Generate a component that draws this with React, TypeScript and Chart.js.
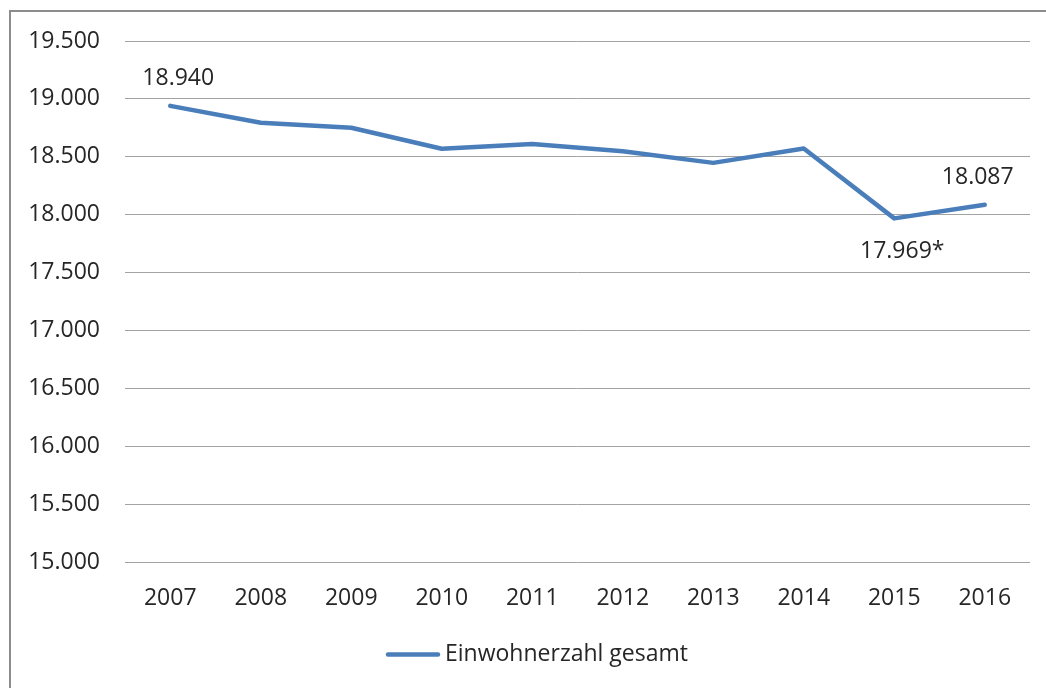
import React, { useEffect, useRef } from "react";
import { Chart, registerables } from "chart.js";

Chart.register(...registerables);

const years: string[] = ["2007", "2008", "2009", "2010", "2011", "2012", "2013", "2014", "2015", "2016"];
const einwohner: number[] = [18940, 18795, 18751, 18570, 18612, 18548, 18448, 18572, 17969, 18087];
const pointLabels: string[] = ["18.940", "", "", "", "", "", "", "", "17.969*", "18.087"];
const seriesName = "Einwohnerzahl gesamt";
const yMin = 15000;
const yMax = 19500;
const yStep = 500;

const FONT = "'Open Sans', 'Noto Sans', sans-serif";
const TEXT = "#262626";
const LINE = "#4a7ebb";

// label placement styling: above/below point, with small horizontal nudge
const labelStyle: { [k: number]: { below: boolean; dx: number } } = {
  0: { below: false, dx: 8 },
  8: { below: true, dx: 8 },
  9: { below: false, dx: -7 },
};

const dataLabelPlugin = {
  id: "pointLabels",
  afterDatasetsDraw(chart: any) {
    const meta = chart.getDatasetMeta(0);
    const ctx = chart.ctx;
    ctx.save();
    ctx.font = `23px ${FONT}`;
    ctx.fillStyle = TEXT;
    ctx.textAlign = "center";
    ctx.textBaseline = "middle";
    meta.data.forEach((pt: any, i: number) => {
      const txt = pointLabels[i];
      if (!txt) return;
      const st = labelStyle[i] || { below: false, dx: 0 };
      const y = st.below ? pt.y + 33 : pt.y - 27;
      ctx.fillText(txt, pt.x + st.dx, y);
    });
    ctx.restore();
  },
};

// simple Excel-like legend: short line then label
const legendPlugin = {
  id: "excelLegend",
  afterDraw(chart: any) {
    const ds = chart.data.datasets[0];
    const ctx = chart.ctx;
    const y = chart.chartArea.bottom + 92;
    const x0 = 375;
    const lineW = 54;
    ctx.save();
    ctx.strokeStyle = ds.borderColor;
    ctx.lineWidth = 4.5;
    ctx.lineCap = "round";
    ctx.beginPath();
    ctx.moveTo(x0 + 2, y);
    ctx.lineTo(x0 + lineW - 2, y);
    ctx.stroke();
    ctx.font = `23px ${FONT}`;
    ctx.fillStyle = TEXT;
    ctx.textAlign = "left";
    ctx.textBaseline = "middle";
    ctx.fillText(ds.label, x0 + lineW + 5, y);
    ctx.restore();
  },
};

export default function App() {
  const ref = useRef<HTMLCanvasElement | null>(null);
  useEffect(() => {
    if (!ref.current) return;
    const chart = new Chart(ref.current, {
      type: "line",
      data: {
        labels: years,
        datasets: [
          {
            label: seriesName,
            data: einwohner,
            borderColor: LINE,
            backgroundColor: LINE,
            borderWidth: 4.5,
            pointRadius: 0,
            pointHoverRadius: 0,
            tension: 0,
            borderJoinStyle: "round",
            borderCapStyle: "round",
          },
        ],
      },
      options: {
        responsive: false,
        animation: false,
        devicePixelRatio: 1,
        layout: { padding: { top: 29, right: 9, left: 0, bottom: 54 } },
        plugins: {
          tooltip: { enabled: false },
          legend: { display: false },
        },
        scales: {
          x: {
            type: "category",
            offset: true,
            grid: { display: false, drawTicks: false },
            border: { display: false },
            ticks: { color: TEXT, font: { family: FONT, size: 23 }, padding: 22, maxRotation: 0 },
          },
          y: {
            min: yMin,
            max: yMax,
            grid: { color: "#a3a3a3", lineWidth: 1, drawTicks: false },
            border: { display: false },
            ticks: {
              stepSize: yStep,
              color: TEXT,
              padding: 25,
              font: { family: FONT, size: 23 },
              callback: (v: any) => Number(v).toLocaleString("de-DE"),
            },
            afterFit: (scale: any) => {
              scale.width = 114;
              scale.paddingTop = 14;
              scale.paddingBottom = 14;
            },
          },
        },
      },
      plugins: [dataLabelPlugin, legendPlugin],
    });
    return () => chart.destroy();
  }, []);

  return (
    <div
      style={{
        position: "fixed",
        left: 9,
        top: 10,
        width: 1100,
        height: 720,
        border: "2px solid #8c8c8c",
        background: "#fff",
        boxSizing: "border-box",
      }}
    >
      <canvas ref={ref} width={1028} height={676} style={{ position: "absolute", left: 0, top: 0 }} />
    </div>
  );
}
